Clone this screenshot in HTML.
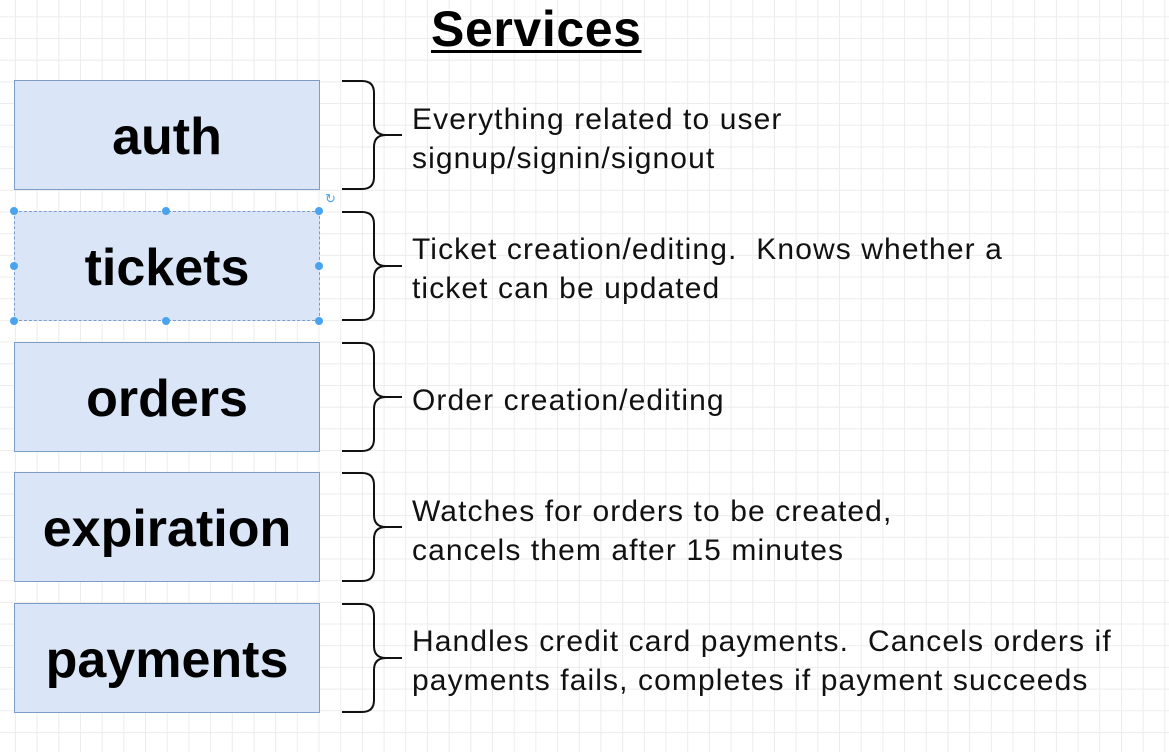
<!DOCTYPE html>
<html><head><style>
html,body{margin:0;padding:0}
body{width:1169px;height:752px;position:relative;overflow:hidden;background:#fff;
background-image:linear-gradient(to right,#ececec 1px,transparent 1px),linear-gradient(to bottom,#ececec 1px,transparent 1px);
background-size:21.7px 21.7px;background-position:14.9px 16.3px;font-family:"Liberation Sans",Arial,sans-serif}
.t{position:absolute;left:431px;top:0px;font-size:50px;letter-spacing:0.6px;font-weight:bold;text-decoration:underline;text-decoration-thickness:3px;text-underline-offset:4px}
.b{position:absolute;left:14px;width:304px;height:108px;background:#dae6f8;border:1.5px solid #7e9cc8;display:flex;align-items:center;justify-content:center;font-weight:bold;font-size:52px;color:#000;padding-top:3px;box-sizing:content-box;height:105px}
.d{position:absolute;left:412px;font-size:30px;letter-spacing:1.1px;line-height:39px;color:#111;white-space:nowrap}
.h{position:absolute;width:8px;height:8px;border-radius:50%;background:#4aa3ef}
</style></head><body>
<div class="t">Services</div>
<div class="b" style="top:80px">auth</div>
<div class="b" style="top:211px;border:1px dashed #7e9cc8">tickets</div>
<div class="b" style="top:342px">orders</div>
<div class="b" style="top:472px">expiration</div>
<div class="b" style="top:603px">payments</div>
<div class="h" style="left:10px;top:207px"></div><div class="h" style="left:162px;top:207px"></div><div class="h" style="left:315px;top:207px"></div>
<div class="h" style="left:10px;top:262px"></div><div class="h" style="left:315px;top:262px"></div>
<div class="h" style="left:10px;top:317px"></div><div class="h" style="left:162px;top:317px"></div><div class="h" style="left:315px;top:317px"></div>
<div style="position:absolute;left:325px;top:191px;color:#4aa3ef;font-size:13px">↻</div>
<svg width="1169" height="752" style="position:absolute;left:0;top:0" fill="none" stroke="#111" stroke-width="2">
<g id="br"><path d="M342 81 H362 Q374 81 374 93 V123 Q374 135 386 135 H402 M386 135 Q374 135 374 147 V177 Q374 189 362 189 H342"/></g>
<use href="#br" y="131"/><use href="#br" y="262"/><use href="#br" y="392"/><use href="#br" y="523"/>
</svg>
<div class="d" style="top:100px">Everything related to user<br>signup/signin/signout</div>
<div class="d" style="top:230px">Ticket creation/editing.&nbsp; Knows whether a<br>ticket can be updated</div>
<div class="d" style="top:381px">Order creation/editing</div>
<div class="d" style="top:492px">Watches for orders to be created,<br>cancels them after 15 minutes</div>
<div class="d" style="top:622px">Handles credit card payments.&nbsp; Cancels orders if<br>payments fails, completes if payment succeeds</div>
</body></html>
